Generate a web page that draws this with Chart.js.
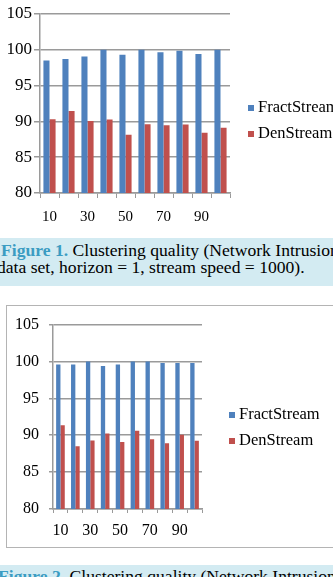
<!doctype html>
<html lang="en">
<head>
  <meta charset="utf-8">
  <title>Clustering quality</title>
  <style>
    * {
  margin: 0;
  padding: 0;
}
body {
  width: 333px;
  height: 577px;
  overflow: hidden;
  position: relative;
  background: white;
  font-family: "Liberation Serif", "DejaVu Serif", serif;
  color: black;
}
.chartBox {
  position: absolute;
  left: 0;
  width: 333px;
}
.frame {
  position: absolute;
  left: 6px;
  top: 305px;
  width: 340px;
  height: 241px;
  border: 1px solid #b4b4b4;
}
.legend {
  position: absolute;
  font-size: 16.5px;
  white-space: nowrap;
}
.legend div {
  height: 26px;
  line-height: 26px;
}
.legend span.box {
  display: inline-block;
  width: 6px;
  height: 6px;
  margin-right: 4px;
  vertical-align: 1px;
}
.caption {
  position: absolute;
  left: 0;
  width: 333px;
  background: #d3ebf2;
  font-size: 17.6px;
  line-height: 17px;
  white-space: nowrap;
  overflow: hidden;
}
.caption b {
  color: #3b9cc2;
}
  </style>
</head>

<body>
  <div class="chartBox" style="top:0; height:232px;">
    <canvas id="chart1"></canvas>
  </div>
  <div class="legend" id="legend1" style="left:248px; top:94px;"></div>

  <div class="caption" style="top:238px; height:44px; padding-top:4px;">
    <div style="margin-left:1px;"><b>Figure 1.</b> Clustering quality (Network Intrusion</div>
    <div style="margin-left:-3px;">data set, horizon = 1, stream speed = 1000).</div>
  </div>

  <div class="frame"></div>
  <div class="chartBox" style="top:305px; height:242px;">
    <canvas id="chart2"></canvas>
  </div>
  <div class="legend" id="legend2" style="left:229px; top:401px;"></div>

  <div class="caption" style="top:565px; height:20px; padding-top:3px;">
    <div style="margin-left:-2px;"><b>Figure 2.</b> Clustering quality (Network Intrusion</div>
  </div>

  <script src="https://cdn.jsdelivr.net/npm/chart.js"></script>
  <script>
    // data
    const categories = ['10', '20', '30', '40', '50', '60', '70', '80', '90', '100'];
    const xTickLabels = ['10', '30', '50', '70', '90'];
    const seriesNames = ['FractStream', 'DenStream'];
    const seriesColors = ['#4f81bd', '#c0504d'];

    // Figure 1
    const fract1 = [98.5, 98.7, 99.05, 100, 99.3, 100, 99.65, 99.85, 99.4, 100];
    const den1 = [90.3, 91.45, 90.05, 90.25, 88.15, 89.6, 89.45, 89.55, 88.4, 89.1];

    // Figure 2
    const fract2 = [99.6, 99.6, 100, 99.4, 99.6, 100, 100, 99.8, 99.8, 99.8];
    const den2 = [91.35, 88.5, 89.3, 90.25, 89.1, 90.6, 89.45, 88.9, 90.05, 89.25];

    const yMin = 80;
    const yMax = 105;
    const yStep = 5;

    Chart.defaults.font.family = '"Liberation Serif", "DejaVu Serif", serif';
    Chart.defaults.color = 'black';

    function drawChart(id, values, g) {
      const data = {
        labels: categories,
        datasets: values.map((v, i) => ({
          label: seriesNames[i],
          data: v,
          backgroundColor: seriesColors[i],
          borderWidth: 0,
          categoryPercentage: g.catPct,
          barPercentage: 1.0
        }))
      };

      const config = {
        type: 'bar',
        data,
        options: {
          responsive: true,
          maintainAspectRatio: false,
          animation: false,
          layout: {
            padding: { left: 0, right: g.right, top: g.top, bottom: 0 }
          },
          scales: {
            x: {
              afterFit: (axis) => { axis.height = g.xHeight; },
              grid: {
                offset: true,
                drawOnChartArea: false,
                drawTicks: true,
                tickLength: g.xTick,
                color: '#9a9a9a',
                lineWidth: 1
              },
              border: { color: '#9a9a9a', width: 1.5 },
              ticks: {
                autoSkip: false,
                maxRotation: 0,
                padding: g.xPad,
                font: { size: g.xFont },
                callback: function (value) {
                  const lab = this.getLabelForValue(value);
                  return xTickLabels.includes(lab) ? lab : '';
                }
              }
            },
            y: {
              min: yMin,
              max: yMax,
              afterFit: (axis) => { axis.width = g.yWidth; },
              grid: {
                drawTicks: true,
                tickLength: g.yTick,
                color: '#9a9a9a',
                lineWidth: 1.5
              },
              border: { color: '#9a9a9a', width: 1.5 },
              ticks: {
                stepSize: yStep,
                padding: g.yPad,
                font: { size: g.yFont }
              }
            }
          },
          plugins: {
            legend: { display: false },
            tooltip: { enabled: false }
          }
        }
      };

      return new Chart(document.getElementById(id), config);
    }

    function drawLegend(id) {
      const el = document.getElementById(id);
      seriesNames.forEach((name, i) => {
        const row = document.createElement('div');
        row.innerHTML = '<span class="box" style="background:' + seriesColors[i] + '"></span>' + name;
        el.appendChild(row);
      });
    }

    drawChart('chart1', [fract1, den1], {
      catPct: 0.64, right: 103, top: 14, xHeight: 39,
      xTick: 5, xPad: 10, xFont: 15, yWidth: 40, yTick: 6, yPad: 2, yFont: 17
    });
    drawChart('chart2', [fract2, den2], {
      catPct: 0.58, right: 131, top: 18, xHeight: 38,
      xTick: 4, xPad: 8, xFont: 16, yWidth: 53, yTick: 4, yPad: 10, yFont: 16
    });
    drawLegend('legend1');
    drawLegend('legend2');
  </script>
</body>
</html>
